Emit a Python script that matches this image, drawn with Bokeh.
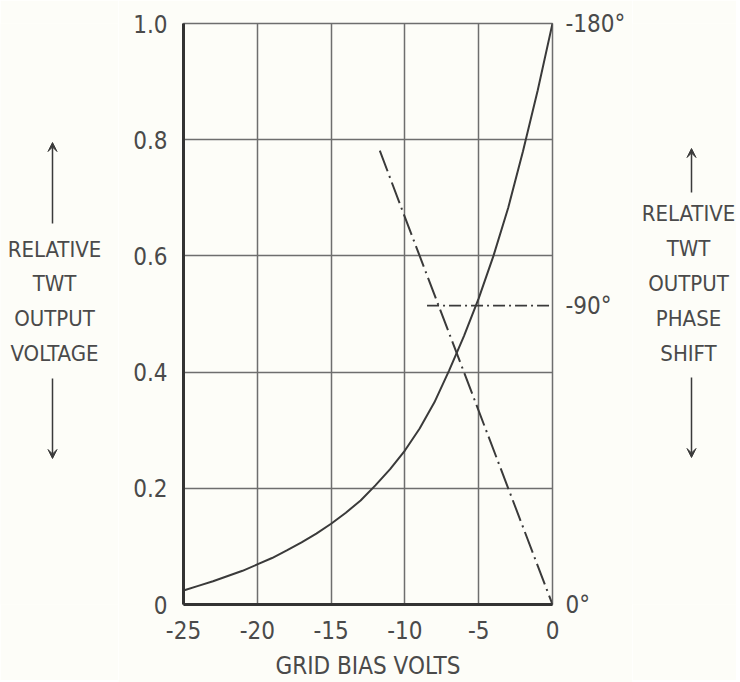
from bokeh.plotting import figure
from bokeh.layouts import row
from bokeh.models import (LinearAxis, Range1d, FixedTicker, Label, Arrow, VeeHead)
from bokeh.embed import file_html
from bokeh.resources import INLINE

# ---- data ----
volt_v = [-25, -24, -23, -22, -21, -20, -19, -18, -17, -16, -15, -14, -13,
          -12, -11, -10, -9, -8, -7, -6, -5, -4, -3, -2, -1, 0]
volt_rel = [0.024, 0.032, 0.040, 0.049, 0.058, 0.069, 0.080, 0.093, 0.107,
            0.122, 0.139, 0.158, 0.179, 0.205, 0.233, 0.265, 0.303, 0.348,
            0.403, 0.462, 0.527, 0.600, 0.683, 0.780, 0.885, 1.0]

phase_v = [-11.7, -10, -9.0, -6.0, -3.0, 0]
phase_deg = [140.6, 120, 108, 72, 36, 0]

ref90_v = [-8.5, 0]
ref90_deg = [92.6, 92.6]

x_ticks = [-25, -20, -15, -10, -5, 0]
x_labels = ["-25", "-20", "-15", "-10", "-5", "0"]
y_ticks = [0, 0.2, 0.4, 0.6, 0.8, 1.0]
y_labels = ["0", "0.2", "0.4", "0.6", "0.8", "1.0"]
r_ticks = [0, 92.6, 180]
r_labels = ["0°", "-90°", "-180°"]

left_words = ["RELATIVE", "TWT", "OUTPUT", "VOLTAGE"]
right_words = ["RELATIVE", "TWT", "OUTPUT", "PHASE", "SHIFT"]

FONT = "DejaVu Sans Condensed, Liberation Sans Narrow, sans-serif"
TXT = "#4a4a4a"
LINE = "#3a3a3a"
GRID = "#6e6e6e"
BG = "#fdfdf8"
TOP, FH, FW = 23, 581, 369
H = 680
BOT = H - TOP - FH
LW, RW, LB, RB = 118, 104, 65, 80

p = figure(frame_width=FW, frame_height=FH,
           min_border_left=LB, min_border_right=RB,
           min_border_top=TOP, min_border_bottom=BOT,
           x_range=Range1d(-25, 0), y_range=Range1d(0, 1),
           output_backend="svg", toolbar_location=None,
           background_fill_color=BG, border_fill_color=BG)
p.extra_y_ranges = {"phase": Range1d(0, 180)}

p.outline_line_color = GRID
p.outline_line_width = 1.5

p.xgrid.ticker = FixedTicker(ticks=x_ticks)
p.ygrid.ticker = FixedTicker(ticks=y_ticks)
for g in (p.xgrid, p.ygrid):
    g.grid_line_color = GRID
    g.grid_line_width = 1.5

xa = p.xaxis[0]
xa.ticker = FixedTicker(ticks=x_ticks)
xa.major_label_overrides = {t: l for t, l in zip(x_ticks, x_labels)}
xa.axis_label = "GRID BIAS VOLTS"
xa.axis_label_text_font = FONT
xa.axis_label_text_font_size = "24px"
xa.axis_label_text_font_style = "normal"
xa.axis_label_text_color = TXT
xa.axis_label_standoff = 10
xa.major_label_standoff = 10

ya = p.yaxis[0]
ya.ticker = FixedTicker(ticks=y_ticks)
ya.major_label_overrides = {t: l for t, l in zip(y_ticks, y_labels)}
ya.major_label_standoff = 10

ra = LinearAxis(y_range_name="phase", ticker=FixedTicker(ticks=r_ticks))
ra.major_label_overrides = {t: l for t, l in zip(r_ticks, r_labels)}
ra.major_label_standoff = 7
ra.axis_line_color = None
p.add_layout(ra, "right")

for ax in (xa, ya, ra):
    ax.major_tick_line_color = None
    ax.minor_tick_line_color = None
    ax.major_label_text_font = FONT
    ax.major_label_text_font_size = "24px"
    ax.major_label_text_color = TXT
for ax in (xa, ya):
    ax.axis_line_color = "#333333"
    ax.axis_line_width = 3

p.line(volt_v, volt_rel, line_color=LINE, line_width=2)
p.line(phase_v, phase_deg, y_range_name="phase", line_color=LINE,
       line_width=2, line_dash="22 5 2 5")
p.line(ref90_v, ref90_deg, y_range_name="phase", line_color=LINE,
       line_width=1.8, line_dash="12 4 2 4")


def yv(py):
    # page pixel row -> value on the shared 0..1 vertical scale
    return (TOP + FH - py) / FH


def side(width, xc, ys, words, ax, up, down):
    f = figure(frame_width=width, frame_height=FH,
               min_border_left=0, min_border_right=0,
               min_border_top=TOP, min_border_bottom=BOT,
               x_range=Range1d(0, width), y_range=Range1d(0, 1),
               x_axis_type=None, y_axis_type=None,
               output_backend="svg", toolbar_location=None,
               background_fill_color=BG, border_fill_color=BG)
    f.outline_line_color = None
    f.grid.visible = False
    for y, w in zip(ys, words):
        f.add_layout(Label(x=xc, y=yv(y), text=w, text_align="center",
                           text_baseline="middle", text_font=FONT,
                           text_font_size="22px", text_color=TXT))
    for a, b in (up, down):
        f.add_layout(Arrow(x_start=ax, y_start=yv(a), x_end=ax, y_end=yv(b),
                           line_color=LINE, line_width=1.5,
                           end=VeeHead(size=9, fill_color=LINE, line_color=LINE)))
    return f


left = side(LW, 54, [249, 283, 318, 353], left_words, 52,
            (223, 142), (378, 458))
rx0 = LW + LB + FW + RB
right = side(RW, 688 - rx0, [213, 248, 283, 318, 353], right_words, 691 - rx0,
             (192, 148), (377, 457))

layout = row(left, p, right, spacing=0)
open("out.html", "w").write(file_html(layout, INLINE))
